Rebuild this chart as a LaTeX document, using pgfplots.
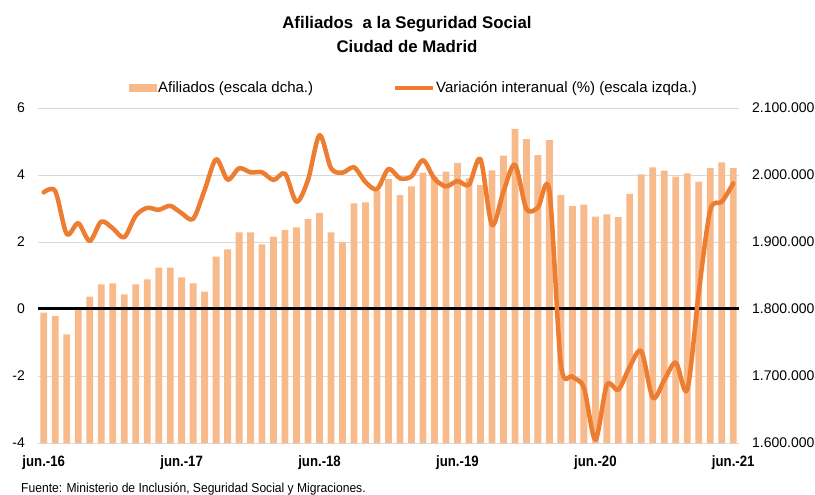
\documentclass[border=0pt]{standalone}
\usepackage{fontspec}
\setmainfont{Liberation Sans}
\newfontfamily\xlabfont[FakeStretch=0.88]{Liberation Sans Bold}
\newfontfamily\srcfont[FakeStretch=0.93]{Liberation Sans}
\usepackage{pgfplots}
\pgfplotsset{compat=1.18}
\usepackage{pgfplotstable}
\definecolor{barc}{HTML}{F8BA8A}
\definecolor{linec}{HTML}{ED7D31}
\definecolor{gridc}{HTML}{D9D9D9}

\pgfplotstableread{
i afil var
0 1794500 3.48
1 1789600 3.52
2 1762200 2.24
3 1801000 2.56
4 1818400 2.03
5 1836800 2.61
6 1838300 2.41
7 1822000 2.14
8 1836800 2.78
9 1844300 3.02
10 1861700 2.96
11 1861700 3.08
12 1847300 2.86
13 1838300 2.69
14 1825900 3.55
15 1878000 4.47
16 1889000 3.86
17 1914400 4.20
18 1914400 4.08
19 1896600 4.08
20 1908000 3.85
21 1918000 4.04
22 1922000 3.20
23 1934300 3.86
24 1943300 5.19
25 1914400 4.20
26 1899600 4.07
27 1957700 4.23
28 1959200 3.79
29 1976000 3.58
30 1994000 4.18
31 1970000 3.90
32 1983000 3.96
33 2003400 4.44
34 1997500 3.89
35 2005000 3.66
36 2018000 3.82
37 1995000 3.71
38 1985000 4.47
39 2007000 2.51
40 2028800 3.50
41 2068700 4.31
42 2053700 2.99
43 2029800 3.03
44 2052200 3.53
45 1970000 -1.65
46 1953700 -2.02
47 1955700 -2.35
48 1937800 -3.90
49 1941300 -2.27
50 1937300 -2.41
51 1972000 -1.72
52 2001000 -1.26
53 2011500 -2.65
54 2006500 -2.12
55 1997500 -1.60
56 2002500 -2.41
57 1990300 0.50
58 2010200 2.95
59 2019000 3.20
60 2010200 3.75
}\datatable

\begin{document}
\begin{tikzpicture}
\path[use as bounding box] (-38bp,-52bp) rectangle (777bp,443bp);
% right axis: bars
\begin{axis}[
  at={(0,0)}, anchor=south west,
  width=701bp, height=335bp, scale only axis,
  xmin=-0.5, xmax=60.5,
  ymin=1600000, ymax=2100000,
  scaled y ticks=false,
  ytick={1600000,1700000,1800000,1900000,2000000,2100000},
  yticklabels={1.600.000,1.700.000,1.800.000,1.900.000,2.000.000,2.100.000},
  yticklabel pos=right,
  xtick=\empty,
  axis line style={draw=none},
  tick style={draw=none},
  major tick length=0pt,
  ymajorgrids,
  major grid style={gridc, line width=0.9bp},
  yticklabel style={font=\fontsize{14bp}{16bp}\selectfont, inner sep=0pt, anchor=west, xshift=13bp},
  legend columns=2,
  legend style={at={(91bp,355bp)}, anchor=west, draw=none, fill=none, inner sep=0pt,
    font=\fontsize{15bp}{17bp}\selectfont,
    nodes={inner sep=1.5bp},
    /tikz/every even column/.append style={column sep=78bp}},
  legend cell align=left,
]
\addplot[ybar, bar width=6.8bp, fill=barc, draw=none, forget plot] table[x=i, y=afil]{\datatable};
\addlegendimage{legend image code/.code={\fill[barc] (0bp,-3.5bp) rectangle (27bp,3.5bp);}}
\addlegendentry{Afiliados (escala dcha.)}
\addlegendimage{legend image code/.code={\draw[linec, line width=4bp] (0bp,0bp) -- (38bp,0bp);}}
\addlegendentry{Variación interanual (\%) (escala izqda.)}
\end{axis}
% left axis: line
\begin{axis}[
  at={(0,0)}, anchor=south west,
  width=701bp, height=335bp, scale only axis,
  xmin=-0.5, xmax=60.5,
  ymin=-4, ymax=6,
  ytick={-4,-2,0,2,4,6},
  yticklabels={-4,-2,0,2,4,6},
  xtick={0,12,24,36,48,60},
  xticklabels={jun.-16,jun.-17,jun.-18,jun.-19,jun.-20,jun.-21},
  axis line style={draw=none},
  tick style={draw=none},
  major tick length=0pt,
  extra y ticks={0},
  extra y tick labels={},
  extra y tick style={grid=major, major grid style={black, line width=3bp}},
  yticklabel style={font=\fontsize{14bp}{16bp}\selectfont, inner sep=0pt, anchor=east, xshift=-13bp},
  xticklabel style={font=\xlabfont\fontsize{15bp}{17bp}\selectfont, inner sep=0pt, anchor=north, yshift=-12bp},
]
\addplot[linec, line width=4.5bp, smooth, line cap=round, line join=round, no markers] table[x=i, y=var]{\datatable};
\end{axis}
\node[anchor=base, font=\bfseries\fontsize{16.8bp}{21bp}\selectfont] at (369bp,414bp) {Afiliados\ \ a la Seguridad Social};
\node[anchor=base, font=\bfseries\fontsize{16.8bp}{21bp}\selectfont] at (369bp,390bp) {Ciudad de Madrid};
\node[anchor=base west, inner sep=0pt, font=\srcfont\fontsize{13bp}{15bp}\selectfont] at (-17bp,-49bp) {Fuente: Ministerio de Inclusión, Seguridad Social y Migraciones.};
\end{tikzpicture}
\end{document}
